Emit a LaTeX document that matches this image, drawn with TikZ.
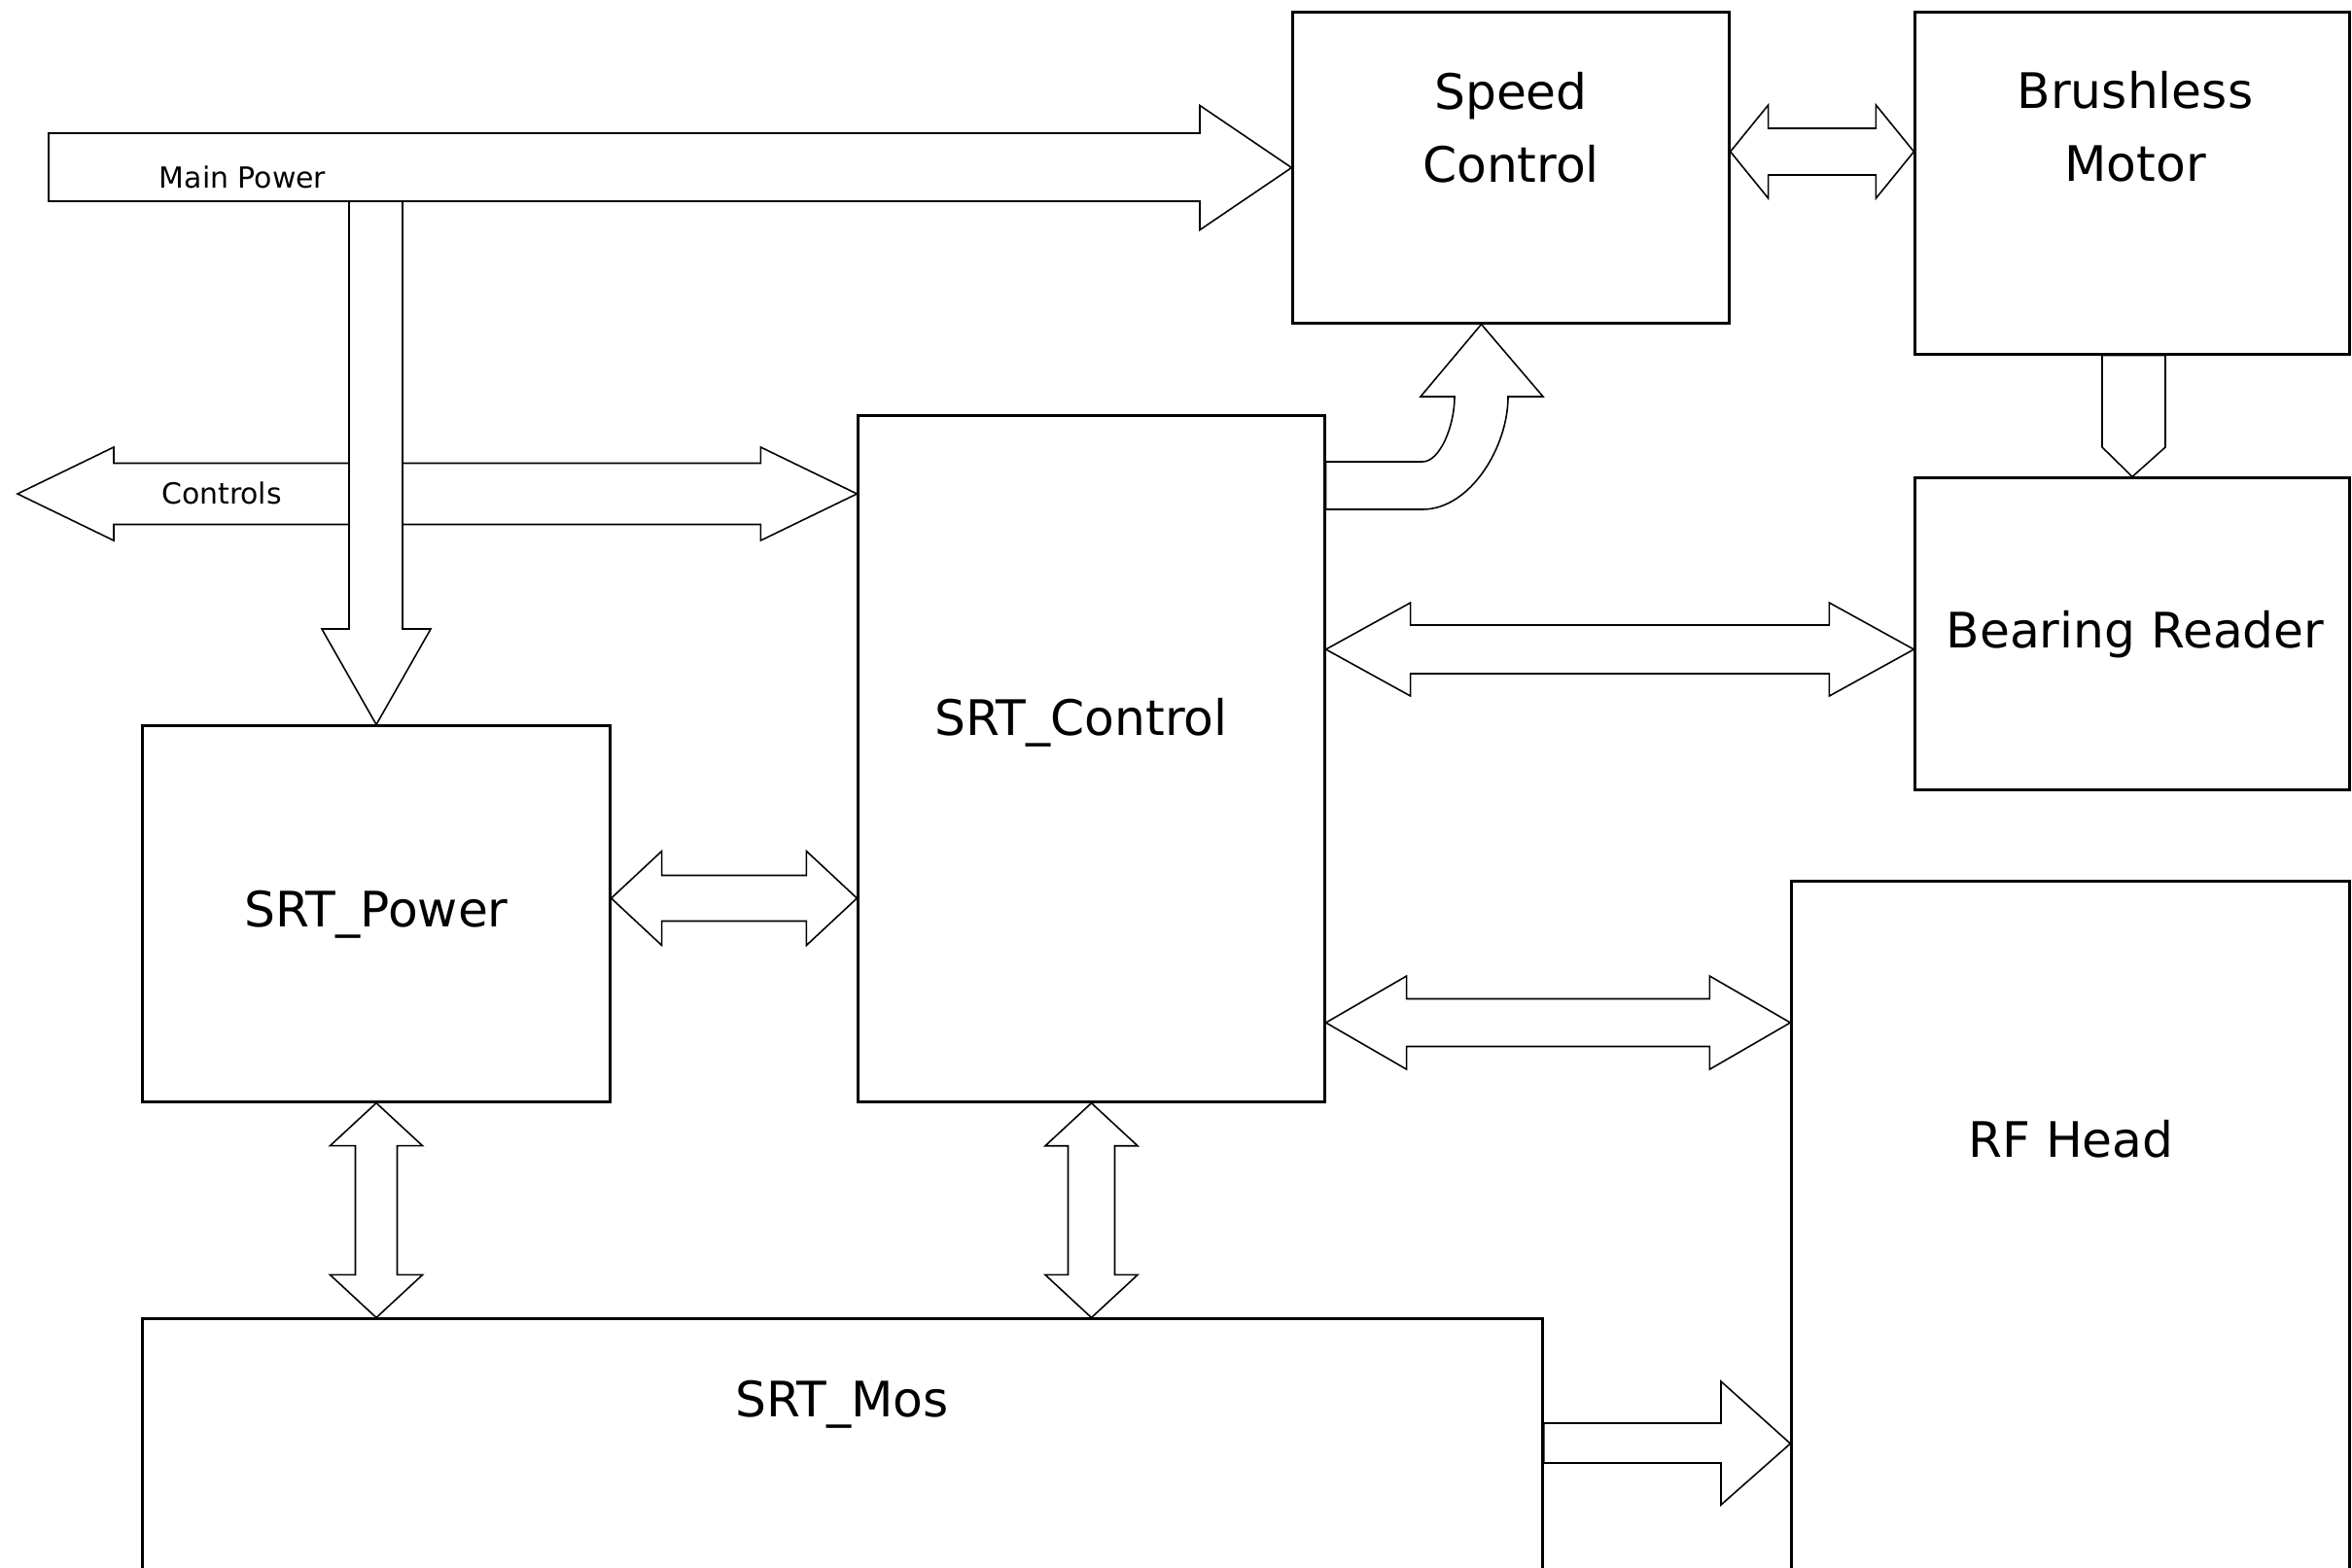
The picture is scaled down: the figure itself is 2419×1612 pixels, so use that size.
\documentclass[tikz,border=0pt]{standalone}
\usepackage{fontspec}
\setmainfont{DejaVu Sans}
\usetikzlibrary{calc}

% block arrows: tips (#1) and (#2), half body #3, half head #4, head length #5
\newcommand{\hdbl}[5]{%
  \draw[barrow] (#1) -- ++(#5,-#4) -- ++(0,#4-#3) -- ($(#2)+(-#5,-#3)$) -- ++(0,#3-#4) -- (#2) -- ++(-#5,#4) -- ++(0,#3-#4) -- ($(#1)+(#5,#3)$) -- ++(0,#4-#3) -- cycle;}
\newcommand{\vdbl}[5]{%
  \draw[barrow] (#1) -- ++(-#4,#5) -- ++(#4-#3,0) -- ($(#2)+(-#3,-#5)$) -- ++(#3-#4,0) -- (#2) -- ++(#4,-#5) -- ++(#3-#4,0) -- ($(#1)+(#3,#5)$) -- ++(#4-#3,0) -- cycle;}

\begin{document}
\begin{tikzpicture}[x=0.01cm, y=-0.01cm,
	blk/.style={draw=black, line width=0.85pt, fill=white, inner sep=0pt},
	barrow/.style={draw=black, line width=0.45pt, fill=white, line join=miter},
	lbl/.style={font=\fontsize{14.3}{21.3}\selectfont, align=center, anchor=base, inner sep=0pt},
	sml/.style={font=\fontsize{8.5}{10}\selectfont, anchor=base, inner sep=0pt}]
	\useasboundingbox (0,0) rectangle (2419,1612);

	\node[blk, minimum width=4.48cm, minimum height=3.19cm] (spd) at (1554,172.5) {};
	\node[blk, minimum width=4.46cm, minimum height=3.51cm] (mot) at (2193,188.5) {};
	\node[blk, minimum width=4.46cm, minimum height=3.20cm] (brg) at (2193,652)   {};
	\node[blk, minimum width=4.79cm, minimum height=7.05cm] (ctl) at (1122.5,780.5) {};
	\node[blk, minimum width=4.80cm, minimum height=3.86cm] (pwr) at (387,940)    {};
	\node[blk, minimum width=14.39cm, minimum height=2.93cm] (mos) at (866.5,1503.5) {};
	\node[blk, minimum width=5.73cm, minimum height=7.43cm] (rf)  at (2129.5,1278.5) {};

	% controls, then the power feed over it
	\coordinate (cl) at (18,508);
	\coordinate (cr) at (ctl.west |- 0,508);
	\hdbl{cl}{cr}{31.5}{48}{99}
	\draw[barrow] (359,207) -- (359,647) -- (331,647) -- (pwr.north) -- (443,647) -- (414,647) -- (414,207) -- cycle;
	\draw[barrow] (50,137) -- (1234,137) -- (1234,108.5) -- (spd.west) -- (1234,236.5) -- (1234,207) -- (50,207) -- cycle;

	\coordinate (sm1) at (spd.east |- 0,156);
	\coordinate (sm2) at (mot.west |- 0,156);
	\hdbl{sm1}{sm2}{24}{48}{39}

	\draw[barrow] (mot.south -| 2162,0) -- (2162,460) -- (brg.north) -- (2227,460) -- (mot.south -| 2227,0) -- cycle;

	\draw[barrow] (ctl.east |- 0,475) -- (1463,475) .. controls (1481,475) and (1496,438) .. (1496,408) -- (1461,408) -- (spd.south -| 1523.5,0) -- (1587,408) -- (1551,408) .. controls (1551,460) and (1512,524) .. (1463,524) -- (ctl.east |- 0,524) -- cycle;

	\coordinate (cb1) at (ctl.east |- 0,668);
	\coordinate (cb2) at (brg.west |- 0,668);
	\hdbl{cb1}{cb2}{25}{48}{87}

	\coordinate (pc1) at (pwr.east |- 0,924);
	\coordinate (pc2) at (ctl.west |- 0,924);
	\hdbl{pc1}{pc2}{23.5}{48.5}{52}

	\coordinate (cr1) at (ctl.east |- 0,1052);
	\coordinate (cr2) at (rf.west |- 0,1052);
	\hdbl{cr1}{cr2}{24.5}{48}{83}

	\coordinate (pm1) at (pwr.south);
	\coordinate (pm2) at (mos.north -| pwr.south);
	\vdbl{pm1}{pm2}{21.5}{47.5}{44}

	\coordinate (cm1) at (ctl.south);
	\coordinate (cm2) at (mos.north -| ctl.south);
	\vdbl{cm1}{cm2}{24}{47.5}{44}

	\draw[barrow] (mos.east |- 0,1464) -- (1770,1464) -- (1770,1421) -- (rf.west |- 0,1485) -- (1770,1548) -- (1770,1505) -- (mos.east |- 0,1505) -- cycle;

	% texts
	\node[lbl] (spdtxt) at (1554,187)  {Speed\\Control};
	\node[lbl] (mottxt) at (2196,186)  {Brushless\\Motor};
	\node[lbl] (brgtxt) at (2196,666)  {Bearing Reader};
	\node[lbl] (ctltxt) at (1112,756)  {SRT\_Control};
	\node[lbl] (pwrtxt) at (387,953)   {SRT\_Power};
	\node[lbl] (mostxt) at (866,1457)  {SRT\_Mos};
	\node[lbl] (rftxt)  at (2130,1190) {RF Head};
	\node[sml] (mainlbl) at (249.5,193) {Main Power};
	\node[sml] (ctrllbl) at (228,518)   {Controls};
\end{tikzpicture}
\end{document}
